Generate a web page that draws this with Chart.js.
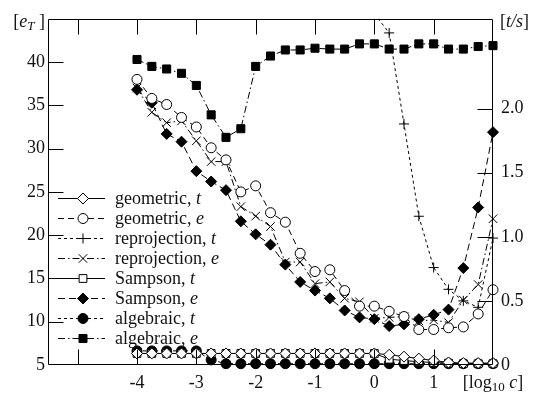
<!DOCTYPE html>
<html><head><meta charset="utf-8">
<script src="https://cdn.jsdelivr.net/npm/chart.js@4/dist/chart.umd.min.js"></script>
<style>html,body{margin:0;padding:0;background:#fff}#wrap{width:535px;height:396px}</style>
</head><body><div id="wrap"><canvas id="c" width="535" height="396"></canvas></div>
<script>
// ---- data ----
const logC = [-4,-3.75,-3.5,-3.25,-3,-2.75,-2.5,-2.25,-2,-1.75,-1.5,-1.25,-1,-0.75,-0.5,-0.25,0,0.25,0.5,0.75,1,1.25,1.5,1.75,2];
const xTicks = [-5,-4,-3,-2,-1,0,1,2];
const leftTicks = [5,10,15,20,25,30,35,40];
const rightTicks = [0,0.5,1,1.5,2];
const seriesNames = ['geometric, t','geometric, e','reprojection, t','reprojection, e','Sampson, t','Sampson, e','algebraic, t','algebraic, e'];

const geometricT    = [0.09,0.09,0.09,0.09,0.09,0.09,0.09,0.09,0.09,0.09,0.09,0.09,0.09,0.09,0.09,0.09,0.09,0.08,0.065,0.05,0.035,0.02,0.015,0.015,0.015];
const geometricE    = [38.0,35.8,35.1,33.6,32.5,30.1,28.7,25.0,25.7,22.6,21.5,17.9,15.8,16.0,13.6,11.8,11.8,11.2,10.6,9.1,9.1,9.3,9.4,10.9,13.7];
const reprojectionT = [null,null,null,null,null,null,null,null,null,null,null,null,null,null,null,null,2.74,2.59,1.88,1.16,0.76,0.59,0.50,0.45,0.99];
const reprojectionE = [37.0,34.2,33.0,33.2,30.9,28.5,28.5,23.3,22.2,21.0,16.9,16.9,14.4,14.6,12.7,12.3,10.4,10.5,10.6,10.1,10.2,9.9,12.5,14.3,21.9];
const sampsonT      = [0.09,0.09,0.09,0.09,0.09,0.09,0.09,0.09,0.09,0.09,0.09,0.09,0.09,0.09,0.09,0.09,0.09,0.045,0.035,0.025,0.02,0.015,0.01,0.01,0.01];
const sampsonE      = [36.8,35.3,31.7,30.8,27.4,26.2,25.2,21.6,20.1,18.9,16.6,14.6,13.6,12.7,11.3,10.5,10.3,9.5,9.7,10.3,10.8,11.4,16.2,23.2,31.9];
const algebraicT    = [0.11,0.11,0.11,0.11,0.11,0.04,0.01,0.01,0.01,0.01,0.01,0.01,0.01,0.01,0.01,0.01,0.01,0.01,0.01,0.01,0.01,0.01,0.01,0.01,0.01];
const algebraicE    = [40.3,39.5,39.2,38.7,37.3,33.9,31.3,32.3,39.5,40.7,41.4,41.4,41.6,41.5,41.5,42.1,42.1,41.5,41.5,42.1,42.1,41.5,41.5,41.8,41.9];

// ---- styles ----
const FONT = '"Liberation Serif", "DejaVu Serif", serif';
const FS = 18;
const styles = [
  {d: geometricT,    axis:'yR', ps:'rectRot',  r:5.5, fill:false, dash:[]},
  {d: geometricE,    axis:'yL', ps:'circle',   r:5,   fill:false, dash:[6,4]},
  {d: reprojectionT, axis:'yR', ps:'cross',    r:5,   fill:false, dash:[3,3]},
  {d: reprojectionE, axis:'yL', ps:'crossRot', r:6,   fill:false, dash:[7,3,1.5,3]},
  {d: sampsonT,      axis:'yR', ps:'rect',     r:5.5, fill:false, dash:[]},
  {d: sampsonE,      axis:'yL', ps:'rectRot',  r:5.5, fill:true,  dash:[7,4]},
  {d: algebraicT,    axis:'yR', ps:'circle',   r:5,   fill:true,  dash:[3,3]},
  {d: algebraicE,    axis:'yL', ps:'rect',     r:5.7, fill:true,  dash:[7,3,1.5,3]},
];

const datasets = styles.map((s,i)=>({
  label: seriesNames[i],
  data: logC.map((x,k)=>({x:x, y:s.d[k]})),
  yAxisID: s.axis,
  clip: {left:10, right:10, top:0, bottom:10},
  borderColor:'#000', borderWidth:1, borderDash:s.dash,
  pointStyle:s.ps, pointRadius:s.r, pointBorderColor:'#000', pointBorderWidth:1,
  pointBackgroundColor: s.fill ? '#000' : '#fff',
  fill:false, tension:0, spanGaps:false
}));

function drawMarker(ctx, style, r, x, y, filled){
  ctx.save();
  ctx.setLineDash([]);
  ctx.lineWidth = 1; ctx.strokeStyle = '#000'; ctx.fillStyle = filled ? '#000' : '#fff';
  ctx.beginPath();
  let closed = true;
  if (style==='circle') ctx.arc(x,y,r,0,Math.PI*2);
  else if (style==='rect'){ const s=r*Math.SQRT1_2; ctx.rect(x-s,y-s,2*s,2*s); }
  else if (style==='rectRot'){ ctx.moveTo(x,y-r); ctx.lineTo(x+r,y); ctx.lineTo(x,y+r); ctx.lineTo(x-r,y); ctx.closePath(); }
  else if (style==='cross'){ closed=false; ctx.moveTo(x,y-r); ctx.lineTo(x,y+r); ctx.moveTo(x-r,y); ctx.lineTo(x+r,y); }
  else if (style==='crossRot'){ closed=false; const d=r*Math.SQRT1_2; ctx.moveTo(x-d,y-d); ctx.lineTo(x+d,y+d); ctx.moveTo(x+d,y-d); ctx.lineTo(x-d,y+d); }
  if (closed) ctx.fill();
  ctx.stroke();
  ctx.restore();
}

// draws text pieces [{t, italic, sub}] starting at x
function pieces(ctx, parts, x, y, align){
  const widths = parts.map(p=>{ ctx.font = (p.italic?'italic ':'') + (p.sub?Math.round(FS*0.7):FS) + 'px ' + FONT; return ctx.measureText(p.t).width; });
  const total = widths.reduce((a,b)=>a+b,0);
  let cx = align==='right' ? x-total : align==='center' ? x-total/2 : x;
  parts.forEach((p,i)=>{
    ctx.font = (p.italic?'italic ':'') + (p.sub?Math.round(FS*0.7):FS) + 'px ' + FONT;
    ctx.fillText(p.t, cx, y + (p.sub?5:0));
    cx += widths[i];
  });
}

const framePlugin = {
  id:'frame',
  afterDatasetsDraw(chart){
    const {ctx, chartArea:a, scales} = chart;
    const L=Math.round(a.left)+0.5, R=Math.round(a.right)-0.5, T=Math.round(a.top)+0.5, B=Math.round(a.bottom)-0.5;
    ctx.save();
    ctx.strokeStyle='#000'; ctx.lineWidth=1; ctx.setLineDash([]);
    ctx.beginPath(); ctx.rect(L,T,R-L,B-T); ctx.stroke();
    const TL=15;
    ctx.beginPath();
    xTicks.forEach(v=>{ const px=Math.round(scales.x.getPixelForValue(v))+0.5; if(px>L+1&&px<R-1){ ctx.moveTo(px,B); ctx.lineTo(px,B-TL); ctx.moveTo(px,T); ctx.lineTo(px,T+TL);} });
    leftTicks.forEach(v=>{ const py=Math.round(scales.yL.getPixelForValue(v))+0.5; if(py<B-1&&py>T+1){ ctx.moveTo(L,py); ctx.lineTo(L+TL,py);} });
    rightTicks.forEach(v=>{ const py=Math.round(scales.yR.getPixelForValue(v))+0.5; if(py<B-1&&py>T+1){ ctx.moveTo(R,py); ctx.lineTo(R-TL,py);} });
    ctx.stroke();

    // axis unit labels
    ctx.fillStyle='#111'; ctx.textBaseline='middle';
    pieces(ctx,[{t:'['},{t:'e',italic:true},{t:'T',italic:true,sub:true},{t:' ]'}], a.left-3, a.top+3, 'right');
    pieces(ctx,[{t:'['},{t:'t/s',italic:true},{t:']'}], a.right+7, a.top+3, 'left');
    pieces(ctx,[{t:'[log'},{t:'10',sub:true},{t:' '},{t:'c',italic:true},{t:']'}], scales.x.getPixelForValue(2), a.bottom+18, 'center');

    // legend
    const x0=a.left+10, x1=a.left+57, xm=a.left+35, xt=a.left+67;
    styles.forEach((s,i)=>{
      const y = a.bottom-167+i*20;
      ctx.save();
      ctx.beginPath(); ctx.setLineDash(s.dash); ctx.moveTo(x0,y+0.5); ctx.lineTo(x1,y+0.5); ctx.stroke();
      ctx.restore();
      drawMarker(ctx,s.ps,s.r,xm,y+0.5,s.fill);
      const nm = seriesNames[i]; const k = nm.lastIndexOf(' ');
      ctx.fillStyle='#111'; ctx.textBaseline='middle';
      pieces(ctx,[{t:nm.slice(0,k+1)},{t:nm.slice(k+1),italic:true}], xt, y+1, 'left');
    });
    ctx.restore();
  }
};

new Chart(document.getElementById('c'), {
  type:'line',
  data:{datasets},
  plugins:[framePlugin],
  options:{
    responsive:false, animation:false, devicePixelRatio:1,
    layout:{padding:{top:11,left:0,right:0,bottom:0}},
    plugins:{legend:{display:false}, tooltip:{enabled:false}},
    scales:{
      x:{type:'linear', position:'bottom', min:-5.5, max:2,
         afterBuildTicks:s=>{ s.ticks = xTicks.map(v=>({value:v})); },
         afterFit:s=>{ s.height=31; },
         grid:{display:false, drawTicks:false}, border:{display:false},
         ticks:{padding:7, color:'#111', font:{family:FONT,size:FS}, maxRotation:0, autoSkip:false,
                callback:v=> (v===-5||v===2) ? '' : String(v)}},
      yL:{type:'linear', position:'left', min:5, max:45,
         afterBuildTicks:s=>{ s.ticks = leftTicks.map(v=>({value:v})); },
         afterFit:s=>{ s.width=48; },
         grid:{display:false, drawTicks:false}, border:{display:false},
         ticks:{padding:3, color:'#111', font:{family:FONT,size:FS}, autoSkip:false, callback:v=>String(v)}},
      yR:{type:'linear', position:'right', min:0, max:2.7,
         afterBuildTicks:s=>{ s.ticks = rightTicks.map(v=>({value:v})); },
         afterFit:s=>{ s.width=42; },
         grid:{display:false, drawTicks:false}, border:{display:false},
         ticks:{padding:8, color:'#111', font:{family:FONT,size:FS}, autoSkip:false, callback:v=> v===0?'0':v.toFixed(1)}}
    }
  }
});
</script></body></html>
